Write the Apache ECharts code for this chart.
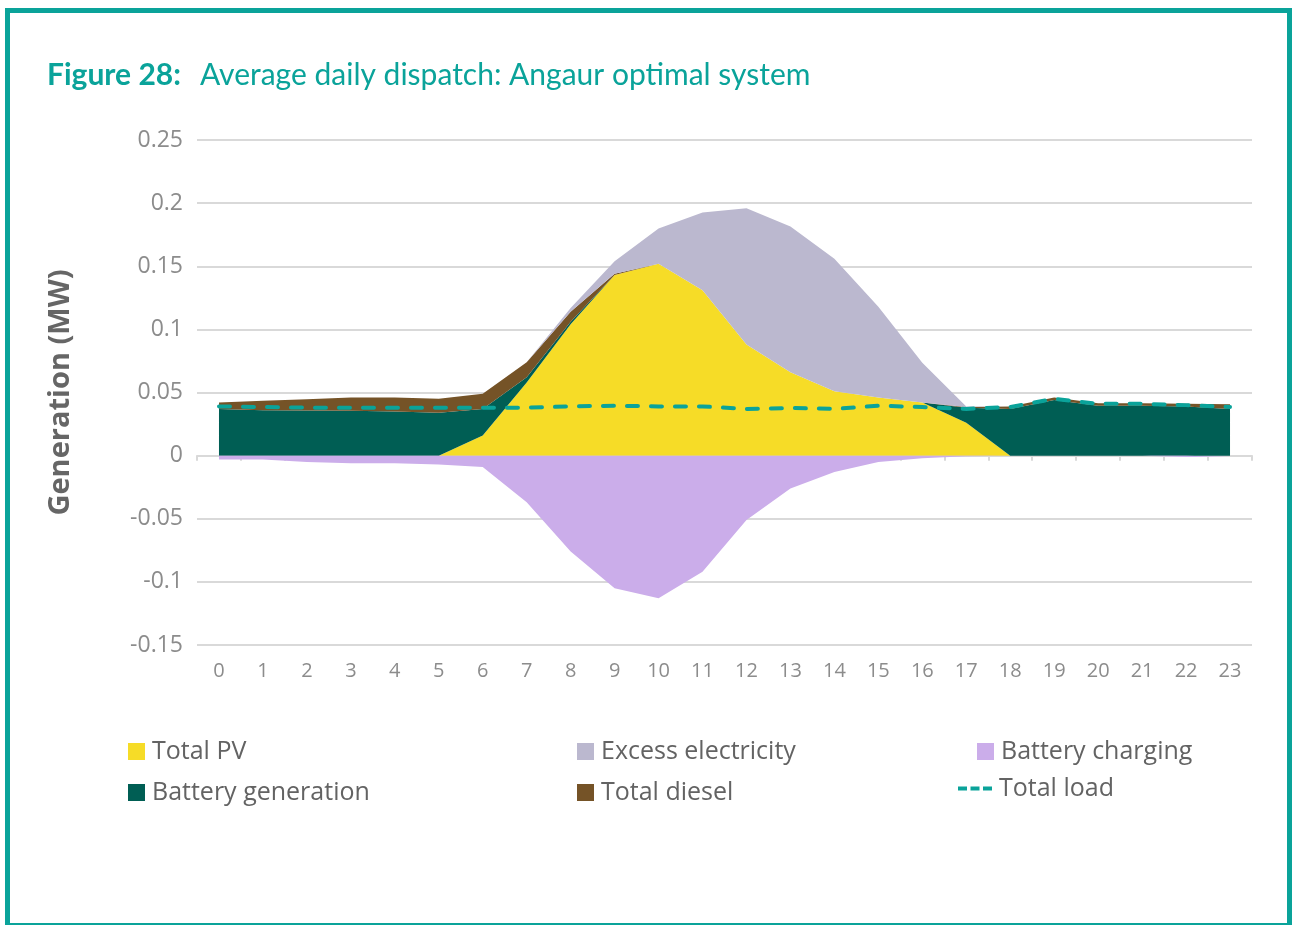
<!DOCTYPE html>
<html>
<head>
<meta charset="utf-8">
<script src="https://cdn.jsdelivr.net/npm/echarts@6/dist/echarts.min.js"></script>
<style>
  html, body { margin:0; padding:0; background:#fff; }
  #frame { position:absolute; left:5px; top:8px; width:1287px; height:917px; box-sizing:border-box;
           border:5px solid #0aa39a; border-bottom-width:2px; }
  #chart { position:absolute; left:0; top:0; width:1292px; height:925px; }
</style>
</head>
<body>
<div id="frame"></div>
<div id="chart"></div>
<script>
const hours = ['0','1','2','3','4','5','6','7','8','9','10','11','12','13','14','15','16','17','18','19','20','21','22','23'];
const yTicks = { min: -0.15, max: 0.25, interval: 0.05 };

const totalPV = [0,0,0,0,0,0,0.016,0.058,0.104,0.143,0.152,0.131,0.088,0.066,0.051,0.046,0.042,0.026,0,0,0,0,0,0];
const batteryGeneration = [0.037,0.036,0.0357,0.0355,0.035,0.034,0.021,0.004,0.002,0,0,0,0,0,0,0,0,0.012,0.037,0.044,0.0395,0.0395,0.039,0.037];
const totalDiesel = [0.005,0.0075,0.009,0.0105,0.011,0.011,0.012,0.012,0.008,0.001,0,0,0,0,0,0,0,0.0005,0.002,0.002,0.002,0.002,0.002,0.0036];
const excessElectricity = [0,0,0,0,0,0,0,0,0.003,0.010,0.028,0.0615,0.108,0.1155,0.105,0.072,0.0315,0.0005,0,0,0,0,0,0];
const batteryCharging = [-0.003,-0.003,-0.005,-0.006,-0.006,-0.007,-0.009,-0.037,-0.076,-0.105,-0.113,-0.092,-0.051,-0.026,-0.013,-0.005,-0.002,-0.0005,0,0,0,0,-0.001,-0.001];
const totalLoad = [0.039,0.0385,0.038,0.038,0.038,0.038,0.038,0.038,0.039,0.0395,0.039,0.039,0.037,0.0377,0.037,0.0395,0.0385,0.037,0.0385,0.045,0.041,0.041,0.040,0.0385];

const chart = echarts.init(document.getElementById('chart'));
const teal = '#0aa39a';
const legendText = { fontFamily: 'Open Sans', fontSize: 25, fontWeight: 500, color: '#636363', lineHeight: 25, padding: [0,0,0,2] };
const mkLegend = (name, left, top, extra) => Object.assign({
  data: [name], left: left, top: top, padding: 0, itemWidth: 17, itemHeight: 17, icon: 'rect',
  textStyle: legendText, selectedMode: false
}, extra || {});

const areaSeries = (name, data, color, stack) => ({
  name: name, type: 'line', data: data, stack: stack, symbol: 'none', showSymbol: false,
  lineStyle: { width: 0 }, areaStyle: { color: color, opacity: 1 }, itemStyle: { color: color },
  emphasis: { disabled: true }, silent: true, z: 2
});

chart.setOption({
  animation: false,
  backgroundColor: 'transparent',
  textStyle: { fontFamily: 'Open Sans' },
  title: [
    { text: 'Figure 28:', left: 42, top: 55, textStyle: { fontFamily: 'Lato', fontWeight: 'bold', fontSize: 30, color: teal } },
    { text: 'Average daily dispatch: Angaur optimal system', left: 195, top: 55, textStyle: { fontFamily: 'Lato', fontWeight: 'normal', fontSize: 30, color: teal } }
  ],
  grid: { left: 197, right: 40, top: 140, bottom: 280, containLabel: false },
  legend: [
    mkLegend('Total PV', 128, 739),
    mkLegend('Battery generation', 128, 780),
    mkLegend('Excess electricity', 577, 739),
    mkLegend('Total diesel', 577, 780),
    mkLegend('Battery charging', 977, 739),
    mkLegend('Total load', 958, 776, { itemWidth: 34, itemHeight: 4,
      icon: 'path://M0,0h9v4h-9z M12.5,0h9v4h-9z M25,0h9v4h-9z', itemStyle: { color: teal } })
  ],
  xAxis: [
    { type: 'category', data: hours, boundaryGap: true,
      axisLine: { onZero: true, lineStyle: { color: '#d9d9d9', width: 2 } },
      axisTick: { show: true, interval: 0, length: 5, lineStyle: { color: '#d9d9d9', width: 2 } },
      axisLabel: { show: false }, splitLine: { show: false } },
    { type: 'category', data: hours, boundaryGap: true, position: 'bottom',
      axisLine: { show: false, onZero: false }, axisTick: { show: false },
      axisLabel: { show: true, interval: 0, margin: 16, fontSize: 20, color: '#8c8c8c', fontFamily: 'Open Sans' },
      splitLine: { show: false } }
  ],
  yAxis: {
    type: 'value', min: yTicks.min, max: yTicks.max, interval: yTicks.interval,
    name: 'Generation (MW)', nameLocation: 'middle', nameGap: 122, nameRotate: 90,
    nameTextStyle: { fontFamily: 'Open Sans', fontWeight: 'bold', fontSize: 29, color: '#666666' },
    axisLine: { show: false }, axisTick: { show: false },
    axisLabel: { margin: 14, fontSize: 23, color: '#8c8c8c', fontFamily: 'Open Sans' },
    splitLine: { lineStyle: { color: '#d9d9d9', width: 2 } }
  },
  series: [
    areaSeries('Total PV', totalPV, '#f6dc27', 'gen'),
    areaSeries('Battery generation', batteryGeneration, '#005e54', 'gen'),
    areaSeries('Total diesel', totalDiesel, '#755327', 'gen'),
    areaSeries('Excess electricity', excessElectricity, '#bbb8cf', 'gen'),
    areaSeries('Battery charging', batteryCharging, '#cbadea', undefined),
    { name: 'Total load', type: 'line', data: totalLoad, symbol: 'none', showSymbol: false, silent: true,
      lineStyle: { color: teal, width: 4, type: [11, 13], cap: 'round' }, itemStyle: { color: teal }, z: 5 }
  ]
});
</script>
</body>
</html>
